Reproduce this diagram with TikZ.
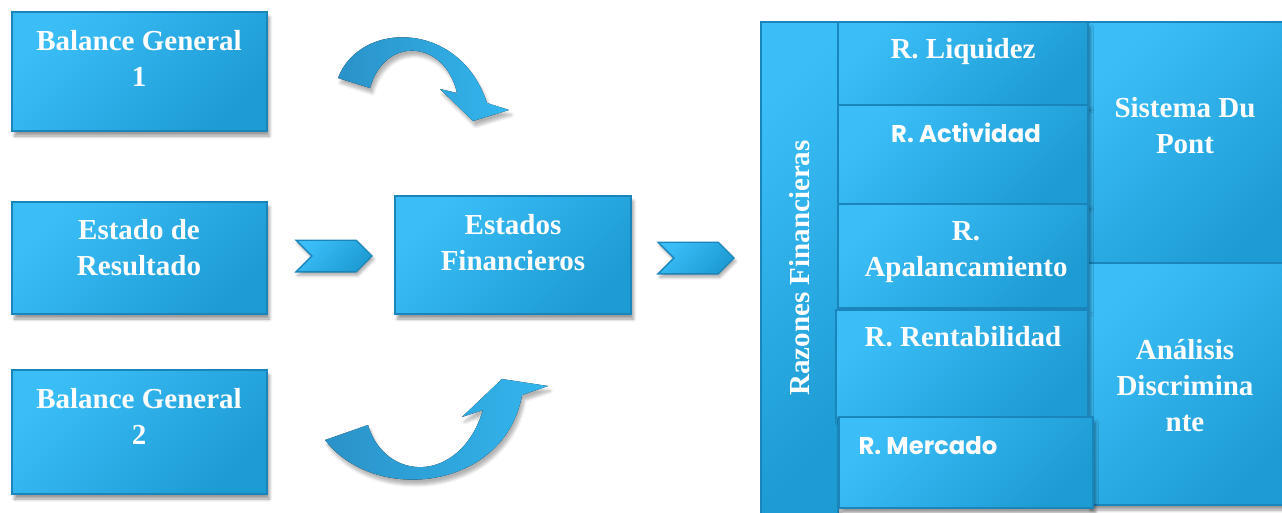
\documentclass[tikz,border=0pt]{standalone}
\usepackage{fontspec}
\setmainfont{Liberation Serif}
\newfontfamily\geofont{Poppins}
\usetikzlibrary{positioning}
\usetikzlibrary{fit}
\usetikzlibrary{shapes.symbols}
\usetikzlibrary{shadows.blur}

\definecolor{boxlight}{HTML}{3BBEF8}
\definecolor{boxdark}{HTML}{1D9BD3}
\definecolor{boxline}{HTML}{1A85BA}
\definecolor{arrowdark}{HTML}{2A92C8}
\definecolor{arrowlight}{HTML}{33B6EE}

\tikzset{
  panel/.style={draw=boxline, line width=0.8pt, top color=boxlight, bottom color=boxdark,
    shading angle=45, inner sep=0pt,
    blur shadow={shadow xshift=1.5pt, shadow yshift=-3pt, shadow blur steps=6, shadow opacity=40}},
  caption/.style={text=white, font=\bfseries\fontsize{17.4}{21.6}\selectfont, align=center, inner sep=0pt},
  geocaption/.style={text=white, font=\geofont\bfseries\fontsize{14.6}{17}\selectfont, inner sep=0pt},
  chevron/.style={signal, signal to=east, signal from=west, draw=boxline, line width=0.8pt,
    top color=boxlight, bottom color=boxdark, shading angle=45, inner sep=0pt,
    minimum width=45.6pt, minimum height=19pt,
    blur shadow={shadow xshift=1pt, shadow yshift=-2pt, shadow blur steps=5, shadow opacity=35}},
  bendarrow/.style={left color=arrowdark, right color=arrowlight,
    blur shadow={shadow xshift=1.5pt, shadow yshift=-3pt, shadow blur steps=6, shadow opacity=30}}
}

\begin{document}
\begin{tikzpicture}[x=0.6pt,y=-0.6pt]
\useasboundingbox (0,0) rectangle (1282,512);

%%% LEFT BOXES %%%
\node[panel, fit={(12,12) (267,131)}] (bg1) {};
\node[panel, fit={(12,202) (267,314)}] (er) {};
\node[panel, fit={(12,370) (267,494)}] (bg2) {};
\node[caption] (bg1txt) at (139,58) {Balance General\\1};
\node[caption] (ertxt) at (139,248) {Estado de\\Resultado};
\node[caption] (bg2txt) at (139,416) {Balance General\\2};

%%% CURVED ARROWS %%%
% top
\fill[bendarrow] (338,78) -- (370,88) .. controls (385,35) and (445,40) .. (457,93)
  -- (440,89) -- (473,121) -- (509,110) -- (487,103)
  .. controls (460,20) and (360,20) .. (338,78) -- cycle;
% bottom
\fill[bendarrow] (325,440) -- (368,425) .. controls (385,482) and (460,485) .. (483,410)
  -- (462,417) -- (502,379) -- (548,386) -- (522,395)
  .. controls (505,490) and (375,505) .. (325,440) -- cycle;

%%% MIDDLE %%%
\node[chevron] (chev1) at (334,256) {};
\node[panel, fit={(395,196) (631,314)}] (ef) {};
\node[caption] (eftxt) at (513,243) {Estados\\Financieros};
\node[chevron] (chev2) at (696,258) {};

%%% ANALYSIS %%%
\node[panel, fit={(1088,22) (1292,263)}] (sdp) {};
\node[panel, fit={(1088,263) (1292,505)}] (adis) {};
\node[caption] (sdptxt) at (1185,126) {Sistema Du\\Pont};
\node[caption] (adistxt) at (1185,386) {Análisis\\Discrimina\\nte};

%%% RATIOS %%%
\node[panel, fit={(761,22) (838,520)}] (rf) {};
\node[caption, rotate=90] (rftxt) at (800,268) {Razones Financieras};
\node[panel, fit={(838,22) (1088,105)}] (rliq) {};
\node[panel, fit={(838,105) (1088,204)}] (ract) {};
\node[panel, fit={(838,204) (1088,308)}] (rapal) {};
\node[panel, fit={(836,310) (1088,418)}] (rrent) {};
\node[panel, fit={(839,417) (1093,508)}] (rmerc) {};
\node[caption] (rliqtxt) at (963,52) {R. Liquidez};
\node[geocaption] (racttxt) at (966,133) {R. Actividad};
\node[caption] (rapaltxt) at (966,252) {R.\\Apalancamiento};
\node[caption] (rrenttxt) at (963,337) {R. Rentabilidad};
\node[geocaption] (rmerctxt) at (928,446) {R. Mercado};
\end{tikzpicture}
\end{document}
